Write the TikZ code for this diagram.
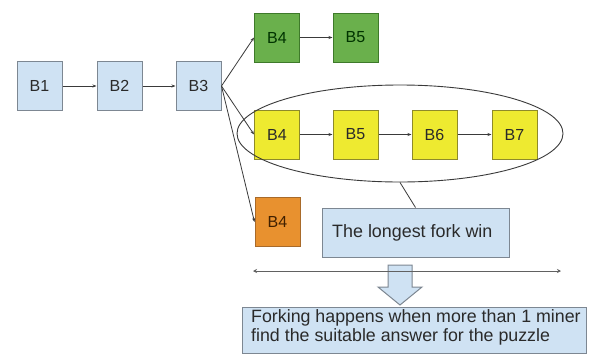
\documentclass[tikz,border=0pt]{standalone}
\usepackage{fontspec}
\setmainfont{Liberation Sans}
\usetikzlibrary{arrows.meta,shapes.geometric}

\definecolor{blockblue}{HTML}{CFE2F3}
\definecolor{blueedge}{HTML}{7D8792}
\definecolor{greenfill}{HTML}{6AB04C}
\definecolor{greenedge}{HTML}{3E7A2A}
\definecolor{yellowfill}{HTML}{EEEA30}
\definecolor{yellowedge}{HTML}{8E8A2A}
\definecolor{orangefill}{HTML}{E8912F}
\definecolor{orangeedge}{HTML}{A86A2A}
\definecolor{linegray}{HTML}{3A3A3A}
\definecolor{inktext}{HTML}{2A2A2A}

\tikzset{
  block/.style={draw, line width=1pt, minimum width=45pt, minimum height=49pt,
    inner sep=0pt, font=\fontsize{16}{18}\selectfont},
  blueblock/.style={block, fill=blockblue, draw=blueedge, text=inktext},
  greenblock/.style={block, fill=greenfill, draw=greenedge, text=black!80!green},
  yellowblock/.style={block, fill=yellowfill, draw=yellowedge, text=inktext},
  orangeblock/.style={block, fill=orangefill, draw=orangeedge, text=black!75!orange},
  link/.style={draw=linegray, line width=0.8pt, -{Stealth[length=4pt,width=3pt]}},
  plainlink/.style={draw=linegray, line width=0.8pt},
  notebox/.style={draw=blueedge, fill=blockblue, line width=1pt, inner sep=0pt,
    text=inktext},
}

\begin{document}
\begin{tikzpicture}[x=1pt,y=-1pt]
  \useasboundingbox (0,0) rectangle (592,354);
  \fill[white] (0,0) rectangle (592,354);

  % main chain
  \node[blueblock] (b1) at (39.5,86) {B1};
  \node[blueblock] (b2) at (119.5,86) {B2};
  \node[blueblock] (b3) at (198.5,86) {B3};

  % short green fork
  \node[greenblock] (g4) at (277,37.5) {B4};
  \node[greenblock] (g5) at (355.5,37.5) {B5};

  % longest yellow fork
  \node[yellowblock] (y4) at (277,134.5) {B4};
  \node[yellowblock] (y5) at (355.5,134.5) {B5};
  \node[yellowblock] (y6) at (434.5,134.5) {B6};
  \node[yellowblock] (y7) at (514.5,134.5) {B7};

  % orange fork
  \node[orangeblock] (o4) at (277.5,222) {B4};

  % ellipse around the longest fork
  \node[ellipse, draw=linegray, line width=0.9pt, minimum width=326pt,
        minimum height=97pt, inner sep=0pt] (ell) at (400,133.5) {};

  \draw[link] (b1) -- (b2);
  \draw[link] (b2) -- (b3);
  \draw[link] (b3.east) -- (g4.west);
  \draw[link] (b3.east) -- (y4.west);
  \draw[link] (b3.east) -- (o4.west);
  \draw[link] (g4) -- (g5);
  \draw[link] (y4) -- (y5);
  \draw[link] (y5) -- (y6);
  \draw[link] (y6) -- (y7);

  % caption for the winning fork
  \node[notebox, minimum width=187pt, minimum height=49pt] (fork) at (415.5,232.5) {};
  \node[anchor=west, text=inktext, font=\fontsize{17.9}{20}\selectfont, inner sep=0pt]
    (forktext) at (332,233) {The longest fork win};
  \draw[plainlink] (ell.south) -- (fork.north);

  % block arrow pointing to the explanation
  \coordinate (arrowtip) at (400,305);
  \draw[fill=blockblue, draw=blueedge, line width=1pt]
    (388,265) -- (412,265) -- (412,287) -- (422,287) -- (arrowtip)
    -- (378,287) -- (388,287) -- cycle;

  % timeline
  \coordinate (tl) at (253,271);
  \coordinate (tr) at (561,271);
  \draw[draw=linegray!80, line width=0.9pt,
        {Stealth[length=4pt,width=4pt]}-{Stealth[length=4pt,width=4pt]}] (tl) -- (tr);

  % explanation box
  \node[notebox, minimum width=344pt, minimum height=46pt] (expl) at (414,330) {};
  \node[anchor=north west, align=left, text=inktext, inner sep=0pt,
        font=\fontsize{17.8}{19}\selectfont] (expltext) at (251,309)
    {Forking happens when more than 1 miner\\find the suitable answer for the puzzle};
\end{tikzpicture}
\end{document}
